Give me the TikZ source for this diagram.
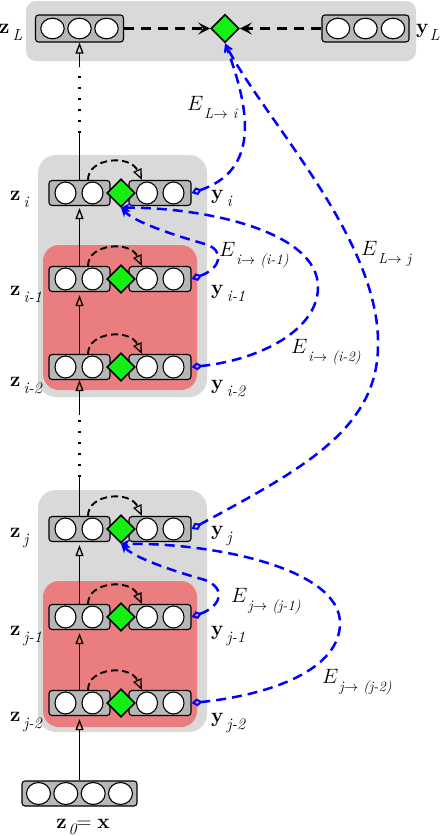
\documentclass[tikz,border=0pt]{standalone}
\usepackage{graphicx}
\usetikzlibrary{arrows.meta,shapes.geometric,calc}
\definecolor{boxgrey}{RGB}{217,217,217}
\definecolor{boxred}{RGB}{234,126,126}
\definecolor{blockgrey}{RGB}{183,183,183}
\definecolor{dgreen}{RGB}{20,240,20}
\tikzset{
 block/.style={draw=black,line width=1.1pt,fill=blockgrey,rounded corners=3pt,inner sep=0pt,minimum height=25pt},
 unit/.style={draw=black,line width=1.1pt,fill=white},
 gdia/.style={diamond,draw=black,line width=1.6pt,fill=dgreen,inner sep=0pt,minimum width=28pt,minimum height=28pt},
 vline/.style={line width=1.6pt},
 vtip/.style={-{Triangle[open,length=11pt,width=8pt,line width=1.3pt]}},
 arcarrow/.style={line width=1.9pt,dash pattern=on 7pt off 4pt,-{Triangle[open,length=11pt,width=9pt,line width=1.3pt]}},
 topdash/.style={line width=2.3pt,dash pattern=on 10pt off 7pt,-{Stealth[length=12pt,width=12pt,inset=5pt]}},
 bluec/.style={draw=blue,line width=2.5pt,dash pattern=on 10pt off 6pt,{Diamond[open,length=11pt,width=8pt,line width=2pt]}-{Stealth[length=9pt,width=9pt,inset=3pt]}},
 dotline/.style={line width=2.2pt,dash pattern=on 2.5pt off 8.5pt},
 lab/.style={anchor=base west,inner sep=0pt},
}
\newcommand\zlab[2]{{\fontsize{22}{22}\selectfont$\mathbf{#1}$}\kern3pt\raisebox{-7pt}{\fontsize{16}{16}\selectfont\itshape #2}}
\newcommand\elab[1]{{\fontsize{22}{22}\selectfont$E$}\kern1pt\raisebox{-8pt}{\fontsize{14.5}{14.5}\selectfont\itshape #1}}
\newcommand\myrow[2]{%
  \node[block,minimum width=61pt] (#1l) at (79.5,#2) {};
  \node[block,minimum width=62pt] (#1r) at (160,#2) {};
  \foreach \cx in {65.5,92.5,147,173.5} \draw[unit] (\cx,#2) ellipse [x radius=10.5pt,y radius=11pt];
  \node[gdia] (#1d) at (121,#2) {};
  \draw[arcarrow] ([xshift=8.5pt]#1l.north) .. controls +(0,-22.5) and +(-12,-25.5) .. ([xshift=-18pt]#1r.north);
}
\begin{document}
\begin{tikzpicture}[x=1pt,y=-1pt]
\useasboundingbox (0,0) rectangle (442,836);
\fill[white] (0,0) rectangle (442,836);
% backgrounds
\fill[boxgrey,rounded corners=10pt] (26,1) rectangle (416,61);
\fill[boxgrey,rounded corners=18pt] (38,155) rectangle (207,397);
\fill[boxred,rounded corners=16pt] (43,245) rectangle (197,390);
\fill[boxgrey,rounded corners=18pt] (38,490) rectangle (207,732);
\fill[boxred,rounded corners=16pt] (43,581) rectangle (197,727);
% top row
\node[block,minimum width=88pt,minimum height=27pt] (zl) at (79.5,28.5) {};
\foreach \cx in {52.5,79.5,106.5} \draw[unit] (\cx,28.5) ellipse [x radius=11.7pt,y radius=10.3pt];
\node[block,minimum width=87pt,minimum height=27pt] (yl) at (365.5,28.5) {};
\foreach \cx in {338,365.5,393} \draw[unit] (\cx,28.5) ellipse [x radius=11.7pt,y radius=10.3pt];
\node[gdia] (dL) at (225,28.5) {};
\draw[topdash] (zl.east) -- (dL.west);
\draw[topdash] (yl.west) -- (dL.east);
% rows
\myrow{ia}{193}
\myrow{ib}{279}
\myrow{ic}{367}
\myrow{ja}{529}
\myrow{jb}{617}
\myrow{jc}{703}
% input block
\node[block,minimum width=115pt] (z0) at (79.5,793.5) {};
\foreach \cx in {38.5,65.8,93.2,120.5} \draw[unit] (\cx,793.5) ellipse [x radius=12pt,y radius=11pt];
% vertical connectors
\coordinate (cA) at (79.5,133);
\coordinate (cB) at (79.5,67);
\draw[vline] (ial.north) -- (cA);
\draw[dotline] (cA) -- (cB);
\draw[vline,vtip] (cB) -- (zl.south);
\draw[vline,vtip,shorten >=2pt] (ibl.north) -- (ial.south);
\draw[vline,vtip,shorten >=3pt] (icl.north) -- (ibl.south);
\coordinate (cC) at (79.5,477);
\coordinate (cD) at (79.5,415);
\draw[vline] (jal.north) -- (cC);
\draw[dotline] (cC) -- (cD);
\draw[vline,vtip] (cD) -- (icl.south);
\draw[vline,vtip,shorten >=3pt] (jbl.north) -- (jal.south);
\draw[vline,vtip,shorten >=3pt] (jcl.north) -- (jbl.south);
\draw[vline,vtip,shorten >=3pt] (z0.north) -- (jcl.south);
% blue curves
\draw[bluec] (iar.east) .. controls (260,170) and (250,110) .. (dL.south);
\draw[bluec] (jar.east) .. controls (300,470) and (378,430) .. (378,345) .. controls (380,240) and (265,120) .. (dL.south);
\draw[bluec] (ibr.east) .. controls (222,268) and (225,250) .. (205,244) .. controls (170,234) and (135,222) .. (iad.south);
\draw[bluec] (icr.east) .. controls (260,360) and (318,330) .. (318,287) .. controls (318,230) and (200,207) .. (iad.south);
\draw[bluec] (jbr.east) .. controls (222,606) and (226,588) .. (205,580) .. controls (170,570) and (135,558) .. (jad.south);
\draw[bluec] (jcr.east) .. controls (270,695) and (340,670) .. (340,623) .. controls (340,570) and (220,543) .. (jad.south);
% labels
\node[lab] (tzL) at (-1,33) {\zlab{z}{L}};
\node[lab] (tyL) at (416,33) {{\fontsize{22}{22}\selectfont$\mathbf{y}$}\kern1pt\raisebox{-7pt}{\fontsize{16}{16}\selectfont\itshape L}};
\node[lab] (tzi) at (10,200) {\zlab{z}{i}};
\node[lab] (tzi1) at (10,295) {\zlab{z}{i-1}};
\node[lab] (tzi2) at (10,386) {\zlab{z}{i-2}};
\node[lab] (tzj) at (10,537) {\zlab{z}{j}};
\node[lab] (tzj1) at (10,635) {\zlab{z}{j-1}};
\node[lab] (tzj2) at (10,721) {\zlab{z}{j-2}};
\node[lab] (tyi) at (211,199) {\zlab{y}{i}};
\node[lab] (tyi1) at (211,294) {\zlab{y}{i-1}};
\node[lab] (tyi2) at (211,389) {\zlab{y}{i-2}};
\node[lab] (tyj) at (211,535) {\zlab{y}{j}};
\node[lab] (tyj1) at (211,635) {\zlab{y}{j-1}};
\node[lab] (tyj2) at (211,722) {\zlab{y}{j-2}};
\node[anchor=base,inner sep=0pt] (tz0) at (83,828) {{\fontsize{22}{22}\selectfont$\mathbf{z}$}\kern2pt\raisebox{-6pt}{\fontsize{16}{16}\selectfont\itshape 0}{\fontsize{22}{22}\selectfont$=\mathbf{x}$}};
\node[lab] (eLi) at (187,110) {\elab{L$\rightarrow$ i}};
\node[lab] (eLj) at (361,255) {\elab{L$\rightarrow$ j}};
\node[lab] (ei1) at (219,256) {\elab{i$\rightarrow$ (i-1)}};
\node[lab] (ei2) at (291,353) {\elab{i$\rightarrow$ (i-2)}};
\node[lab] (ej1) at (231,602) {\elab{j$\rightarrow$ (j-1)}};
\node[lab] (ej2) at (322,683) {\elab{j$\rightarrow$ (j-2)}};
\end{tikzpicture}
\end{document}
